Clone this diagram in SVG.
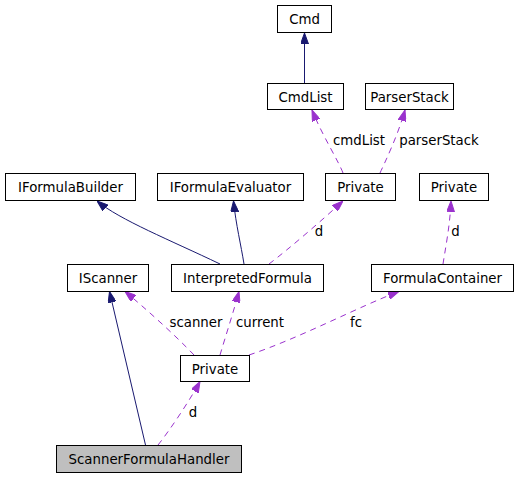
<svg xmlns="http://www.w3.org/2000/svg" width="517" height="477" viewBox="0 0 517 477">
<defs>
<style>
.node rect{fill:#ffffff;stroke:#000000;stroke-width:1}
.node text,.lbl{font-family:"DejaVu Sans",sans-serif;font-size:13.33px;fill:#000000;text-anchor:middle}
.inh{fill:none;stroke:#191970;stroke-width:1;marker-end:url(#ah-inh)}
.use{fill:none;stroke:#9a32cd;stroke-width:1;stroke-dasharray:6,5;marker-end:url(#ah-use)}
</style>
<marker id="ah-inh" markerUnits="userSpaceOnUse" markerWidth="11" markerHeight="8" refX="11" refY="4" orient="auto"><path d="M0,0 L11,4 L0,8 z" fill="#191970" stroke="#191970" stroke-width="1"/></marker>
<marker id="ah-use" markerUnits="userSpaceOnUse" markerWidth="11" markerHeight="8" refX="11" refY="4" orient="auto"><path d="M0,0 L11,4 L0,8 z" fill="#9a32cd" stroke="#9a32cd" stroke-width="1"/></marker>
</defs>
<rect width="517" height="477" fill="#ffffff"/>
<g id="edges">
<path class="inh" d="M304.5,83.5 L304.5,33"/>
<path class="use" d="M343,173 C338,160 322,135 312,110"/>
<path class="use" d="M380,173 C386,160 398,135 405,110"/>
<path class="inh" d="M220,264 C170,240 120,220 97,201"/>
<path class="inh" d="M244,264 C241,245 236,225 233.5,201"/>
<path class="use" d="M269,264 C290,248 320,222 343,201"/>
<path class="use" d="M443,264 C446,245 450,225 451,201"/>
<path class="inh" d="M145.5,445 L109.5,291.5"/>
<path class="use" d="M194,355 C175,335 145,308 125,291.5"/>
<path class="use" d="M220,355 C226,335 234,310 239,291.5"/>
<path class="use" d="M249,355 C300,338 360,306 399,291.5"/>
<path class="use" d="M158,445 C170,430 190,400 200,381.5"/>
<text class="lbl" x="359" y="145">cmdList</text>
<text class="lbl" x="439" y="145">parserStack</text>
<text class="lbl" x="319" y="236">d</text>
<text class="lbl" x="455.5" y="236">d</text>
<text class="lbl" x="196" y="327">scanner</text>
<text class="lbl" x="260" y="327">current</text>
<text class="lbl" x="356" y="327">fc</text>
<text class="lbl" x="193" y="417">d</text>
</g>
<g id="Cmd" class="node"><rect x="277.5" y="5.5" width="54" height="27"/><text x="304.5" y="24">Cmd</text></g>
<g id="CmdList" class="node"><rect x="267.5" y="83.5" width="76" height="26"/><text x="305.5" y="101.5">CmdList</text></g>
<g id="ParserStack" class="node"><rect x="365.5" y="83.5" width="88" height="26"/><text x="409.5" y="101.5">ParserStack</text></g>
<g id="IFormulaBuilder" class="node"><rect x="5.5" y="173.5" width="130" height="27"/><text x="70.5" y="192">IFormulaBuilder</text></g>
<g id="IFormulaEvaluator" class="node"><rect x="157.5" y="173.5" width="146" height="27"/><text x="230.5" y="192">IFormulaEvaluator</text></g>
<g id="PrivateIF" class="node"><rect x="325.5" y="173.5" width="70" height="27"/><text x="360.5" y="192">Private</text></g>
<g id="PrivateFC" class="node"><rect x="419.5" y="173.5" width="69" height="27"/><text x="454" y="192">Private</text></g>
<g id="IScanner" class="node"><rect x="67.5" y="264.5" width="81" height="27"/><text x="108" y="283">IScanner</text></g>
<g id="InterpretedFormula" class="node"><rect x="171.5" y="264.5" width="152" height="27"/><text x="247.5" y="283">InterpretedFormula</text></g>
<g id="FormulaContainer" class="node"><rect x="371.5" y="264.5" width="142" height="27"/><text x="442.5" y="283">FormulaContainer</text></g>
<g id="PrivateSFH" class="node"><rect x="180.5" y="355.5" width="69" height="26"/><text x="215" y="373.5">Private</text></g>
<g id="ScannerFormulaHandler" class="node"><rect x="56.5" y="445.5" width="185" height="27" style="fill:#bfbfbf"/><text x="149" y="464">ScannerFormulaHandler</text></g>
</svg>
